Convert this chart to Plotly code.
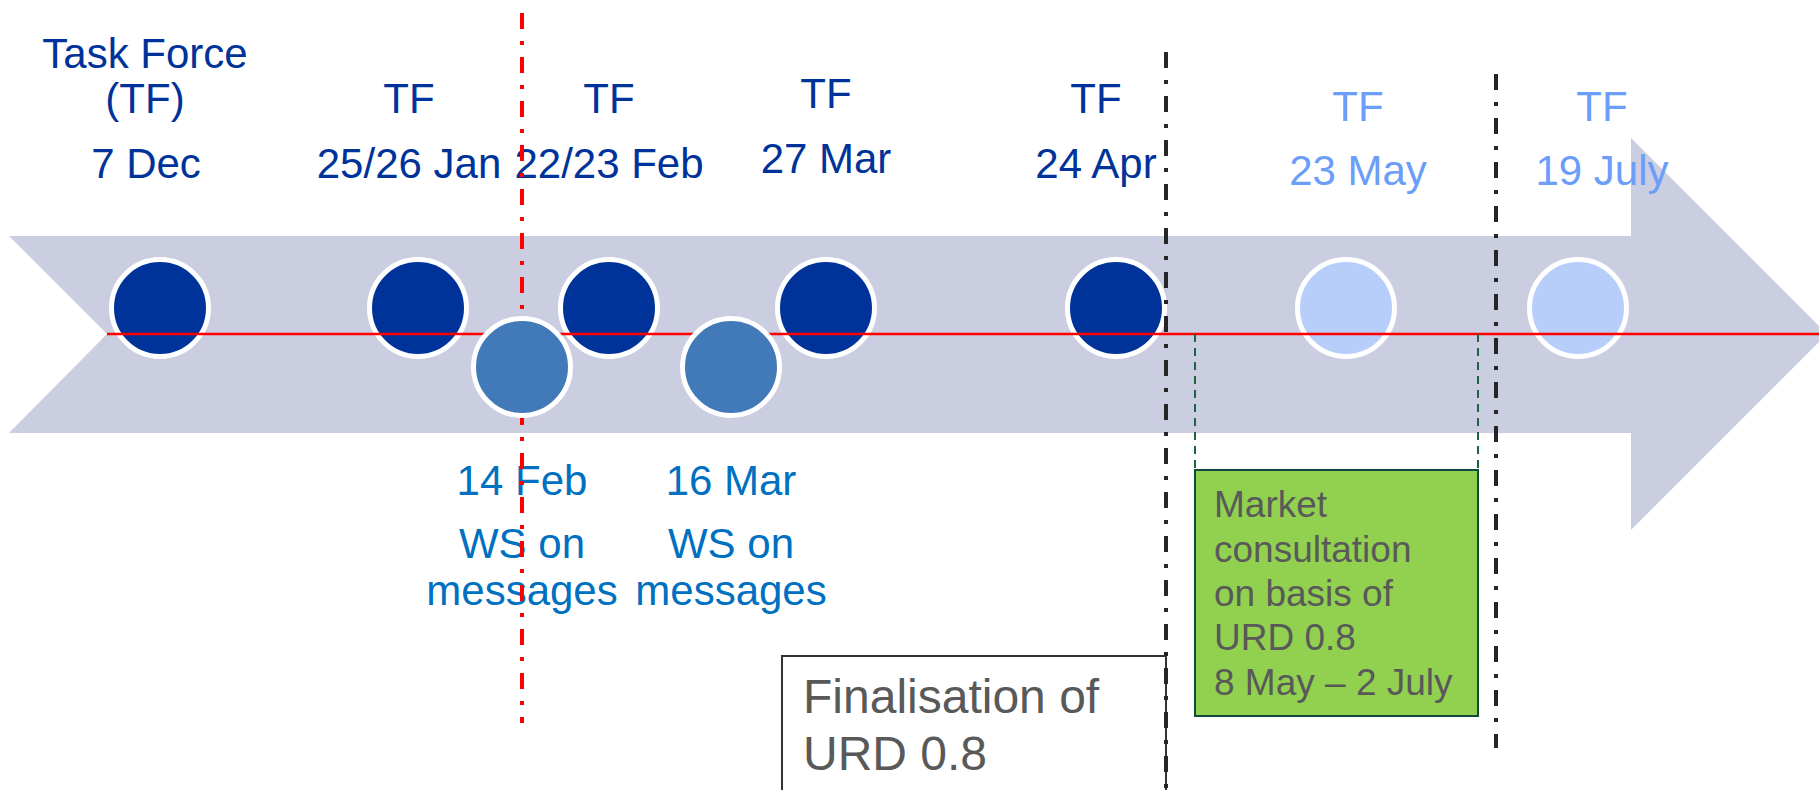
import plotly.graph_objects as go

# ---------------- data ----------------
tf_titles = [["Task Force", "(TF)"], ["TF"], ["TF"], ["TF"], ["TF"], ["TF"], ["TF"]]
tf_dates = ["7 Dec", "25/26 Jan", "22/23 Feb", "27 Mar", "24 Apr", "23 May", "19 July"]
tf_status = ["held", "held", "held", "held", "held", "planned", "planned"]

ws_dates = ["14 Feb", "16 Mar"]
ws_topics = [["WS on", "messages"], ["WS on", "messages"]]

consultation_lines = ["Market", "consultation", "on basis of", "URD 0.8", "8 May \u2013 2 July"]
finalisation_lines = ["Finalisation of", "URD 0.8"]

# ---------------- layout positions (timeline slots, px units) ----------------
W, H = 1819, 790
tf_pos = [160, 418, 609, 826, 1116, 1346, 1578]
tf_label_x = [146, 409, 609, 826, 1096, 1358, 1602]
tf_title_base = [113, 113, 113, 108, 113, 121, 121]
tf_date_base = [178, 178, 178, 173, 178, 185, 185]
ws_pos = [522, 731]
ws_label_x = [522, 731]
ws_date_base = 495
ws_topic_base = [558, 605]

upper_y, lower_y = 308, 367
axis_y = 334
milestone_x = 522          # red dash-dot
phase_x = [1166, 1496]     # black dash-dot
phase_top = [52, 74]
phase_bottom = [H + 10, 748]
consult_x = [1195, 1478]
consult_box = (1195, 1478, 470, 716)
final_box = (782, 1166, 656, H + 20)

DARK = "#003399"
MID = "#4279B8"
LIGHT = "#B7CEFB"
LIGHT_TXT = "#6C9DF8"
WS_TXT = "#0070C0"
GREY = "#595959"
FONT = "Liberation Sans, Arial, sans-serif"

fig = go.Figure()

def text_trace(xs, bases, texts, size, color, pos="middle center"):
    # for plotly text-only scatter, baseline sits at y + 0.25*size
    return go.Scatter(
        x=xs, y=[b - 0.25 * size for b in bases], text=texts, mode="text",
        textposition=pos, textfont=dict(family=FONT, size=size, color=color),
        hoverinfo="skip", showlegend=False, cliponaxis=False)

# upper circles (task force meetings)
fig.add_trace(go.Scatter(
    x=tf_pos, y=[upper_y] * len(tf_pos), mode="markers",
    marker=dict(size=97, color=[DARK if s == "held" else LIGHT for s in tf_status],
                line=dict(color="white", width=5)),
    hoverinfo="skip", showlegend=False, cliponaxis=False))

# top labels
xs, bs, ts, cs = [], [], [], []
for i, lines in enumerate(tf_titles):
    col = DARK if tf_status[i] == "held" else LIGHT_TXT
    n = len(lines)
    for j, ln in enumerate(lines):
        xs.append(tf_label_x[i] if n == 1 else tf_label_x[i] - 1)
        bs.append(tf_title_base[i] - (n - 1 - j) * 45)
        ts.append(ln)
        cs.append(col)
    xs.append(tf_label_x[i]); bs.append(tf_date_base[i]); ts.append(tf_dates[i]); cs.append(col)
for col in (DARK, LIGHT_TXT):
    idx = [k for k in range(len(ts)) if cs[k] == col]
    fig.add_trace(text_trace([xs[k] for k in idx], [bs[k] for k in idx],
                             [ts[k] for k in idx], 42, col))

# workshop labels
wx, wb, wt = [], [], []
for i, d in enumerate(ws_dates):
    wx.append(ws_label_x[i]); wb.append(ws_date_base); wt.append(d)
    for j, ln in enumerate(ws_topics[i]):
        wx.append(ws_label_x[i]); wb.append(ws_topic_base[j]); wt.append(ln)
fig.add_trace(text_trace(wx, wb, wt, 42, WS_TXT))

# red timeline axis
fig.add_trace(go.Scatter(x=[107, W + 20], y=[axis_y, axis_y], mode="lines",
                         line=dict(color="#FF0000", width=2.5),
                         hoverinfo="skip", showlegend=False, cliponaxis=False))
# red milestone dash-dot
fig.add_trace(go.Scatter(x=[milestone_x, milestone_x], y=[13, 723], mode="lines",
                         line=dict(color="#FF0000", width=4, dash="16px,12px,4px,12px"),
                         hoverinfo="skip", showlegend=False, cliponaxis=False))
# green dashed connectors for consultation period
for cx in consult_x:
    fig.add_trace(go.Scatter(x=[cx, cx], y=[axis_y, consult_box[2]], mode="lines",
                             line=dict(color="#1E6440", width=2, dash="8px,6px"),
                             hoverinfo="skip", showlegend=False, cliponaxis=False))

# lower circles (workshops)
fig.add_trace(go.Scatter(
    x=ws_pos, y=[lower_y] * len(ws_pos), mode="markers",
    marker=dict(size=97, color=MID, line=dict(color="white", width=5)),
    hoverinfo="skip", showlegend=False, cliponaxis=False))

# black phase dash-dot lines
for px_, t, b in zip(phase_x, phase_top, phase_bottom):
    fig.add_trace(go.Scatter(x=[px_, px_], y=[t, b], mode="lines",
                             line=dict(color="#262626", width=4, dash="16px,12px,4px,12px"),
                             hoverinfo="skip", showlegend=False, cliponaxis=False))

# box texts
fig.add_trace(text_trace([1214] * len(consultation_lines), [517, 562, 606, 650, 695],
                         consultation_lines, 37, GREY, "middle right"))
fig.add_trace(text_trace([803] * len(finalisation_lines), [713, 770],
                         finalisation_lines, 48, GREY, "middle right"))

# ---------------- shapes ----------------
arrow = [(9, 236), (1631, 236), (1631, 138), (1827, 334), (1631, 530),
         (1631, 433), (9, 433), (107, 334)]
path = "M " + " L ".join(f"{x},{y}" for x, y in arrow) + " Z"
shapes = [
    dict(type="path", path=path, xref="x", yref="y", fillcolor="#CBCDE0",
         line=dict(width=0), layer="below"),
    dict(type="rect", xref="x", yref="y", x0=consult_box[0], x1=consult_box[1],
         y0=consult_box[2], y1=consult_box[3], fillcolor="#92D050",
         line=dict(color="#0E4B3A", width=2), layer="below"),
    dict(type="rect", xref="x", yref="y", x0=final_box[0], x1=final_box[1],
         y0=final_box[2], y1=final_box[3], fillcolor="white",
         line=dict(color="#333333", width=2), layer="below"),
]

fig.update_layout(
    width=W, height=H, margin=dict(l=0, r=0, t=0, b=0),
    paper_bgcolor="white", plot_bgcolor="white",
    xaxis=dict(range=[0, W], visible=False, fixedrange=True),
    yaxis=dict(range=[H, 0], visible=False, fixedrange=True),
    shapes=shapes, showlegend=False, hovermode=False,
)

fig.write_html("out.html", config={"displayModeBar": False},
               post_script="document.body.style.margin='0';document.body.style.overflow='hidden';")
